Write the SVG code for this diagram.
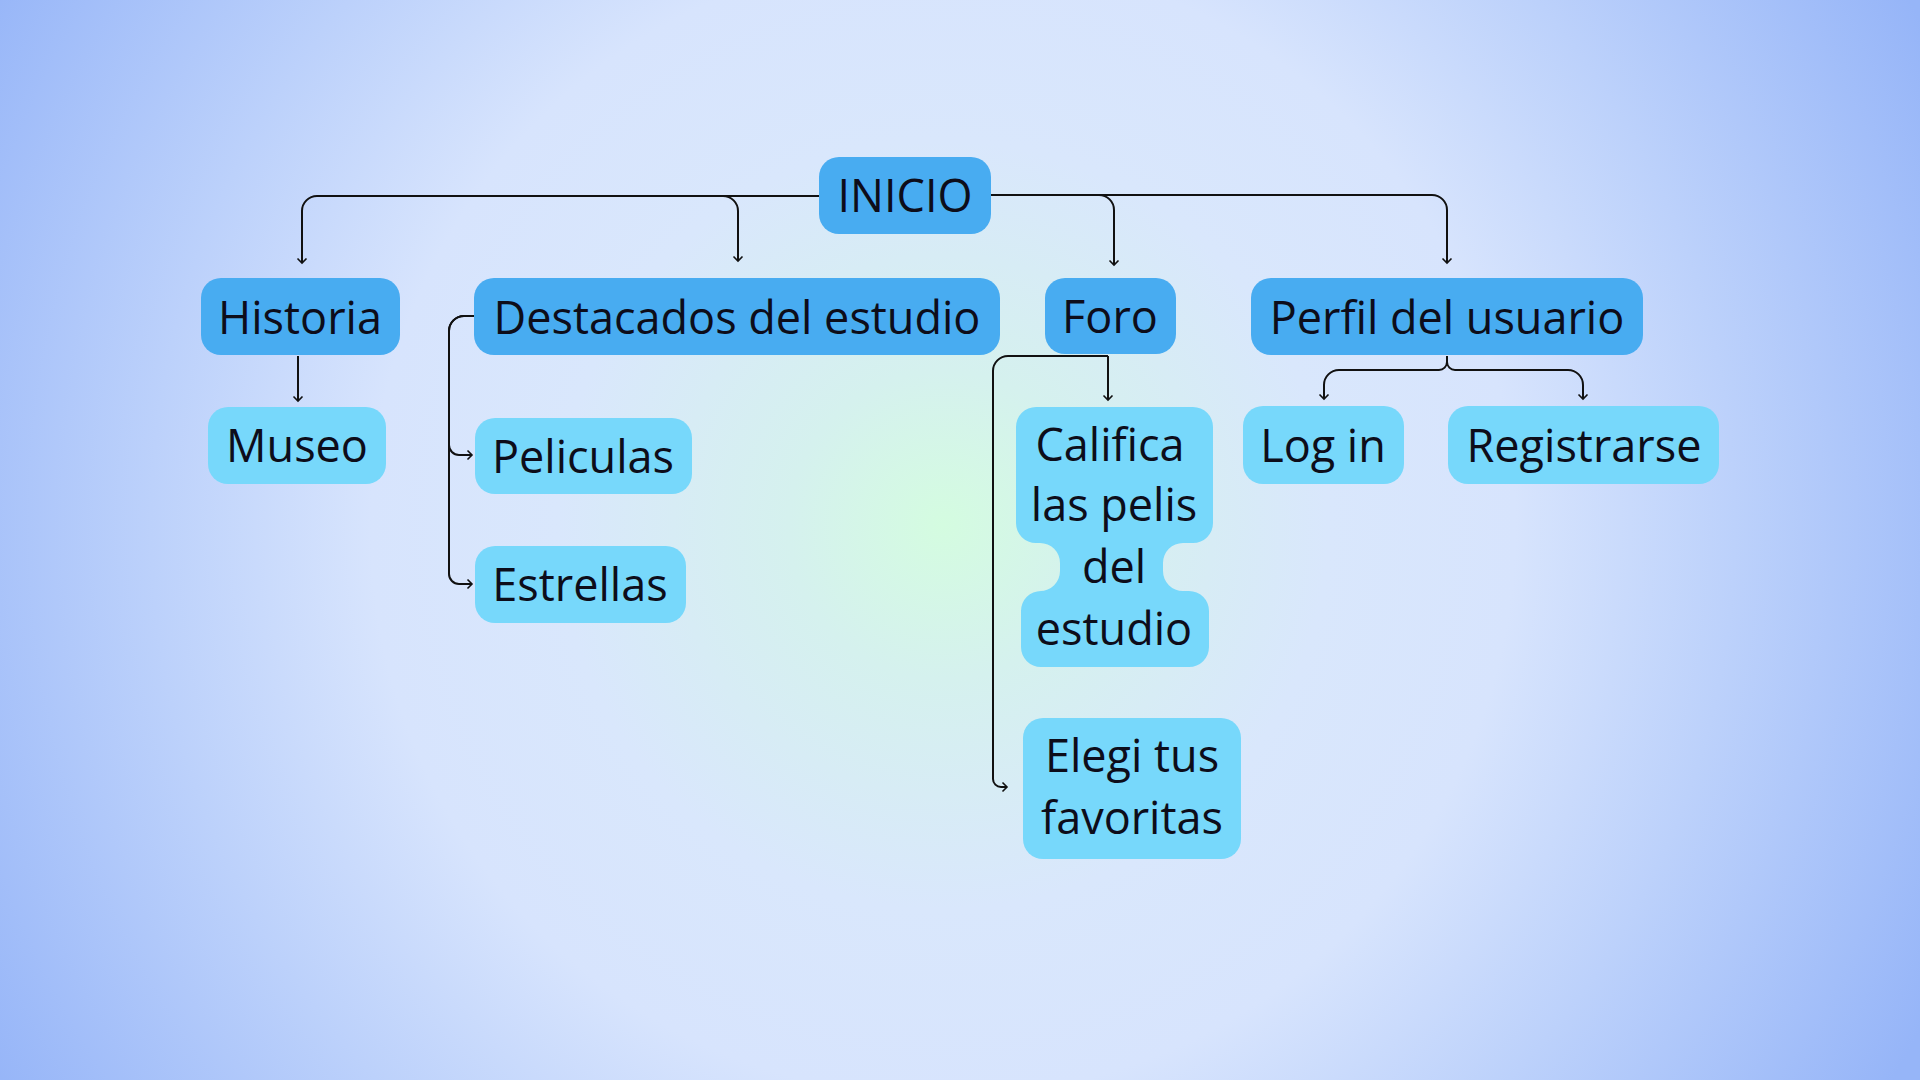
<svg xmlns="http://www.w3.org/2000/svg" width="1920" height="1080" viewBox="0 0 1920 1080">
<defs>
<radialGradient id="bg" gradientUnits="userSpaceOnUse" cx="943" cy="525" r="1100">
<stop offset="0" stop-color="#d4fce0"/>
<stop offset="0.14" stop-color="#d5f1ee"/>
<stop offset="0.35" stop-color="#d9e7fc"/>
<stop offset="0.52" stop-color="#d7e4fd"/>
<stop offset="0.72" stop-color="#bcd1fb"/>
<stop offset="1" stop-color="#96b5f8"/>
</radialGradient>
<marker id="arr" markerUnits="userSpaceOnUse" markerWidth="12" markerHeight="12" refX="6" refY="6" orient="auto">
<path d="M1.5,1.5 L6,6 L1.5,10.5" fill="none" stroke="#111" stroke-width="1.6"/>
</marker>
<style>
.p{fill:#48acf1}
.s{fill:#77d8fb}
text{font-family:"Open Sans","Noto Sans","DejaVu Sans",sans-serif;font-size:45px;fill:#0d0d1a;text-anchor:middle}
.c{fill:none;stroke:#111;stroke-width:2;marker-end:url(#arr)}
</style>
</defs>
<rect width="1920" height="1080" fill="url(#bg)"/>
<g id="connectors">
<path class="c" d="M819,196 H317 A15,15 0 0 0 302,211 V263"/>
<path class="c" d="M819,196 H723 A15,15 0 0 1 738,211 V261"/>
<path class="c" d="M991,195 H1099 A15,15 0 0 1 1114,210 V265"/>
<path class="c" d="M991,195 H1432 A15,15 0 0 1 1447,210 V263"/>
<path class="c" d="M298,356 V401"/>
<path class="c" d="M474,316 H464 A15,15 0 0 0 449,331 V445 A10,10 0 0 0 459,455 H472"/>
<path class="c" d="M474,316 H464 A15,15 0 0 0 449,331 V574 A10,10 0 0 0 459,584 H472"/>
<path class="c" d="M1108,356 V400"/>
<path class="c" d="M1108,356 H1008 A15,15 0 0 0 993,371 V779 A8,8 0 0 0 1001,787 H1007"/>
<path class="c" d="M1447,356 V362 A8,8 0 0 1 1439,370 H1339 A15,15 0 0 0 1324,385 V399"/>
<path class="c" d="M1447,356 V362 A8,8 0 0 0 1455,370 H1568 A15,15 0 0 1 1583,385 V399"/>
</g>
<g id="inicio"><rect class="p" x="819" y="157" width="172" height="77" rx="20"/><text x="905" y="212">INICIO</text></g>
<g id="historia"><rect class="p" x="201" y="278" width="199" height="77" rx="20"/><text x="300" y="334">Historia</text></g>
<g id="destacados"><rect class="p" x="474" y="278" width="526" height="77" rx="20"/><text x="737" y="334">Destacados del estudio</text></g>
<g id="foro"><rect class="p" x="1045" y="278" width="131" height="76" rx="20"/><text x="1110" y="333">Foro</text></g>
<g id="perfil"><rect class="p" x="1251" y="278" width="392" height="77" rx="20"/><text x="1447" y="334">Perfil del usuario</text></g>
<g id="museo"><rect class="s" x="208" y="407" width="178" height="77" rx="20"/><text x="297" y="462">Museo</text></g>
<g id="peliculas"><rect class="s" x="475" y="418" width="217" height="76" rx="20"/><text x="583" y="473">Peliculas</text></g>
<g id="estrellas"><rect class="s" x="475" y="546" width="211" height="77" rx="20"/><text x="580" y="601">Estrellas</text></g>
<g id="califica"><path class="s" d="M1036,407 H1193 A20,20 0 0 1 1213,427 V523 A20,20 0 0 1 1193,543 H1183 A20,20 0 0 0 1163,563 V571 A20,20 0 0 0 1183,591 H1189 A20,20 0 0 1 1209,611 V647 A20,20 0 0 1 1189,667 H1041 A20,20 0 0 1 1021,647 V611 A20,20 0 0 1 1041,591 H1040 A20,20 0 0 0 1060,571 V563 A20,20 0 0 0 1040,543 H1036 A20,20 0 0 1 1016,523 V427 A20,20 0 0 1 1036,407 Z"/><text x="1110" y="461">Califica</text><text x="1114" y="521">las pelis</text><text x="1114" y="583">del</text><text x="1114" y="645">estudio</text></g>
<g id="login"><rect class="s" x="1243" y="406" width="161" height="78" rx="20"/><text x="1323" y="462">Log in</text></g>
<g id="registrarse"><rect class="s" x="1448" y="406" width="271" height="78" rx="20"/><text x="1584" y="462">Registrarse</text></g>
<g id="elegi"><rect class="s" x="1023" y="718" width="218" height="141" rx="20"/><text x="1132" y="772">Elegi tus</text><text x="1132" y="834">favoritas</text></g>
</svg>
